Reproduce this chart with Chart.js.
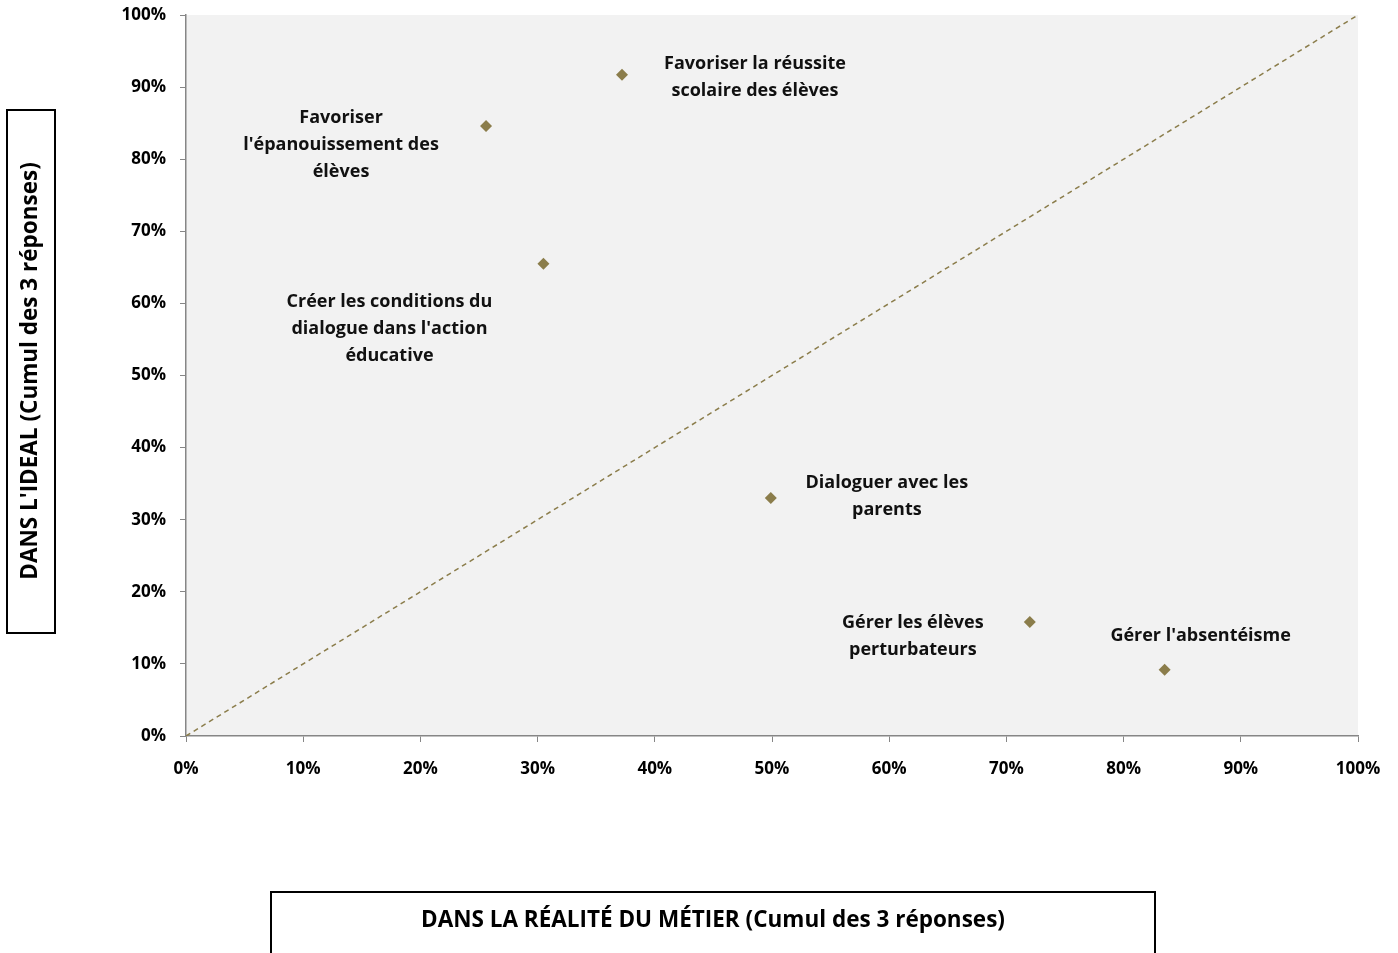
<!DOCTYPE html>
<html>
<head>
<meta charset="utf-8">
<script src="https://cdn.jsdelivr.net/npm/chart.js@4"></script>
<style>
  body { margin: 0; background: #fff; }
  #wrap { width: 1398px; height: 953px; position: relative; }
</style>
</head>
<body>
<div id="wrap"><canvas id="scatterChart"></canvas></div>
<script>
// Data (percent)
const labels = [
    ['Favoriser la réussite', 'scolaire des élèves'],
    ['Favoriser', "l'épanouissement des", 'élèves'],
    ['Créer les conditions du', "dialogue dans l'action", 'éducative'],
    ['Dialoguer avec les', 'parents'],
    ['Gérer les élèves', 'perturbateurs'],
    ["Gérer l'absentéisme"]
];
const realite = [37.2, 25.6, 30.5, 49.9, 72.0, 83.5];
const ideal = [91.7, 84.6, 65.5, 33.0, 15.8, 9.2];
const diagX = [0, 100];
const diagY = [0, 100];
const tickValues = [0, 10, 20, 30, 40, 50, 60, 70, 80, 90, 100];

// label offsets from each point, in pixels (centre of first line)
const labelOffsets = [[133, -11], [-145, -8], [-154, 38], [116, -15], [-117, 1], [36, -34]];

const olive = '#8b7d4b';
const fontFamily = '"Open Sans", Lato, sans-serif';

const plotBackground = {
    id: 'plotBackground',
    beforeDraw(chart) {
        const a = chart.chartArea;
        const c = chart.ctx;
        c.save();
        c.fillStyle = '#f2f2f2';
        c.fillRect(a.left, a.top, a.right - a.left, a.bottom - a.top);
        c.restore();
    }
};

const pointLabels = {
    id: 'pointLabels',
    afterDatasetsDraw(chart) {
        const c = chart.ctx;
        const xs = chart.scales.x, ys = chart.scales.y;
        c.save();
        c.font = 'bold 18px ' + fontFamily;
        c.fillStyle = '#111';
        c.textAlign = 'center';
        c.textBaseline = 'middle';
        labels.forEach(function(lines, i) {
            const px = xs.getPixelForValue(realite[i]) + labelOffsets[i][0];
            const py = ys.getPixelForValue(ideal[i]) + labelOffsets[i][1];
            lines.forEach(function(line, j) {
                c.fillText(line, px, py + j * 27);
            });
        });
        c.restore();
    }
};

const titleBoxes = {
    id: 'titleBoxes',
    afterDraw(chart) {
        const c = chart.ctx;
        c.save();
        c.strokeStyle = '#000';
        c.lineWidth = 2;
        c.strokeRect(7, 110, 48, 523);
        c.strokeRect(271, 892, 884, 80);
        c.font = 'bold 22.5px ' + fontFamily;
        c.fillStyle = '#000';
        c.textAlign = 'center';
        c.textBaseline = 'middle';
        c.fillText('DANS LA RÉALITÉ DU MÉTIER (Cumul des 3 réponses)', 713, 921);
        c.translate(31, 371);
        c.rotate(-Math.PI / 2);
        c.fillText("DANS L'IDEAL (Cumul des 3 réponses)", 0, 0);
        c.restore();
    }
};

const ctx = document.getElementById('scatterChart').getContext('2d');
const chart = new Chart(ctx, {
    type: 'scatter',
    data: {
        datasets: [{
            label: 'Items',
            data: realite.map(function(v, i) { return { x: v, y: ideal[i] }; }),
            pointStyle: 'rectRot',
            pointRadius: 6,
            pointHoverRadius: 6,
            backgroundColor: olive,
            borderColor: olive,
            borderWidth: 0
        }, {
            label: 'Diagonale',
            type: 'line',
            data: diagX.map(function(v, i) { return { x: v, y: diagY[i] }; }),
            borderColor: olive,
            borderWidth: 1.5,
            borderDash: [5, 4],
            pointRadius: 0,
            fill: false
        }]
    },
    options: {
        responsive: true,
        maintainAspectRatio: false,
        animation: false,
        layout: { padding: { top: 15, right: 40, left: 0, bottom: 0 } },
        plugins: {
            legend: { display: false },
            tooltip: { enabled: false }
        },
        scales: {
            x: {
                type: 'linear',
                min: 0,
                max: 100,
                afterBuildTicks(scale) { scale.ticks = tickValues.map(function(v) { return { value: v }; }); },
                afterFit(scale) { scale.height = 217; scale.paddingLeft = 0; scale.paddingRight = 0; },
                grid: { drawOnChartArea: false, drawTicks: true, tickLength: 6, color: '#868686' },
                border: { color: '#868686', width: 1.5 },
                ticks: {
                    padding: 17,
                    color: '#000',
                    maxRotation: 0,
                    font: { family: fontFamily, size: 17, weight: 'bold' },
                    callback: function(v) { return v + '%'; }
                }
            },
            y: {
                type: 'linear',
                min: 0,
                max: 100,
                afterBuildTicks(scale) { scale.ticks = tickValues.map(function(v) { return { value: v }; }); },
                afterFit(scale) { scale.width = 186; scale.paddingTop = 0; scale.paddingBottom = 0; },
                grid: { drawOnChartArea: false, drawTicks: true, tickLength: 6, color: '#868686' },
                border: { color: '#868686', width: 1.5 },
                ticks: {
                    padding: 14,
                    color: '#000',
                    font: { family: fontFamily, size: 17, weight: 'bold' },
                    callback: function(v) { return v + '%'; }
                }
            }
        }
    },
    plugins: [plotBackground, pointLabels, titleBoxes]
});
</script>
</body>
</html>
